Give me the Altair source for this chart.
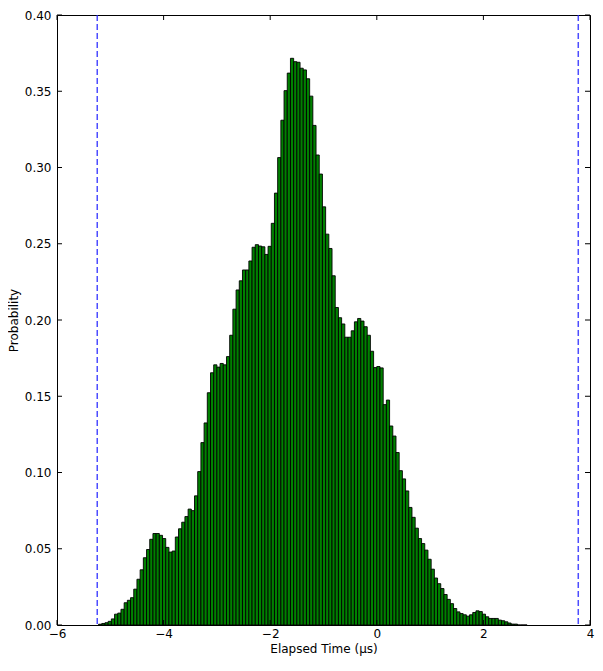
import altair as alt
import pandas as pd

# ---- data ----
bin_start = -5.22
bin_width = 0.06
probability = [
    0.0005, 0.0010, 0.0015, 0.0024, 0.0040, 0.0071, 0.0078, 0.0103, 0.0146, 0.0162,
    0.0179, 0.0235, 0.0300, 0.0362, 0.0441, 0.0495, 0.0562, 0.0600, 0.0600, 0.0588,
    0.0567, 0.0509, 0.0478, 0.0485, 0.0577, 0.0631, 0.0674, 0.0711, 0.0760, 0.0750,
    0.0847, 0.1006, 0.1196, 0.1325, 0.1523, 0.1654, 0.1706, 0.1691, 0.1715, 0.1706,
    0.1760, 0.1900, 0.2071, 0.2197, 0.2257, 0.2328, 0.2328, 0.2387, 0.2477, 0.2494,
    0.2485, 0.2480, 0.2430, 0.2483, 0.2634, 0.2832, 0.3065, 0.3310, 0.3504, 0.3619,
    0.3716, 0.3694, 0.3690, 0.3651, 0.3640, 0.3582, 0.3468, 0.3276, 0.3082, 0.2957,
    0.2742, 0.2563, 0.2469, 0.2290, 0.2082, 0.2015, 0.1974, 0.1887, 0.1887, 0.1929,
    0.1988, 0.2010, 0.1993, 0.1956, 0.1900, 0.1795, 0.1688, 0.1695, 0.1686, 0.1445,
    0.1475, 0.1305, 0.1239, 0.1131, 0.1012, 0.0958, 0.0879, 0.0771, 0.0706, 0.0635,
    0.0567, 0.0534, 0.0491, 0.0431, 0.0366, 0.0308, 0.0271, 0.0239, 0.0200, 0.0168,
    0.0140, 0.0108, 0.0086, 0.0075, 0.0067, 0.0058, 0.0067, 0.0082, 0.0093, 0.0088,
    0.0071, 0.0054, 0.0043, 0.0043, 0.0043, 0.0032, 0.0028, 0.0021, 0.0013, 0.0006,
    0.0006, 0.0, 0.0, 0.0,
]
x_ticks = [-6, -4, -2, 0, 2, 4]
y_ticks = [0.0, 0.05, 0.10, 0.15, 0.20, 0.25, 0.30, 0.35, 0.40]
limits = [-5.245, 3.78]

W, H = 533, 610

df = pd.DataFrame({"p": probability})
df["x0"] = bin_start + bin_width * df.index
df["x1"] = df["x0"] + bin_width
df["base"] = 0.0

xs = alt.Scale(domain=[-6, 4], nice=False, zero=False)
ys = alt.Scale(domain=[0, 0.4], nice=False)

ax_x = alt.Axis(values=x_ticks, format="d", title="Elapsed Time (μs)",
                grid=False, ticks=False, domain=False, labelPadding=3,
                titlePadding=4, labelFlush=False)
ax_y = alt.Axis(values=y_ticks, format=".2f", title="Probability",
                grid=False, ticks=False, domain=False, labelPadding=6,
                titlePadding=4, labelFlush=False)

bars = alt.Chart(df).mark_rect(
    color="#008000", stroke="black", strokeWidth=0.9
).encode(
    x=alt.X("x0:Q", scale=xs, axis=ax_x),
    x2="x1:Q",
    y=alt.Y("p:Q", scale=ys, axis=ax_y),
    y2="base:Q",
)

lines = alt.Chart(pd.DataFrame({"v": limits})).mark_rule(
    color="#2020ff", strokeDash=[6, 3], strokeWidth=1.5, opacity=0.8
).encode(x=alt.X("v:Q", scale=xs, axis=ax_x))

xt = pd.DataFrame({"t": x_ticks})
yt = pd.DataFrame({"t": y_ticks})
tick_style = dict(color="black", strokeWidth=1)
xb = alt.Chart(xt).mark_rule(**tick_style).encode(
    x=alt.X("t:Q", scale=xs, axis=ax_x), y=alt.value(H), y2=alt.value(H - 5))
xtop = alt.Chart(xt).mark_rule(**tick_style).encode(
    x=alt.X("t:Q", scale=xs, axis=ax_x), y=alt.value(0), y2=alt.value(5))
yl = alt.Chart(yt).mark_rule(**tick_style).encode(
    y=alt.Y("t:Q", scale=ys, axis=ax_y), x=alt.value(0), x2=alt.value(5))
yr = alt.Chart(yt).mark_rule(**tick_style).encode(
    y=alt.Y("t:Q", scale=ys, axis=ax_y), x=alt.value(W), x2=alt.value(W - 5))

chart = alt.layer(bars, lines, xb, xtop, yl, yr).properties(
    width=W, height=H,
    autosize=alt.AutoSizeParams(type="none"),
    padding={"left": 49, "top": 7, "right": 5, "bottom": 36},
).configure_view(stroke="black", strokeWidth=1).configure_axis(
    labelFont="DejaVu Sans", labelFontSize=12, labelColor="black",
    titleFont="DejaVu Sans", titleFontSize=12, titleFontWeight="normal",
    titleColor="black",
)

chart.save("out.html", embed_options={"renderer": "svg", "actions": False})
